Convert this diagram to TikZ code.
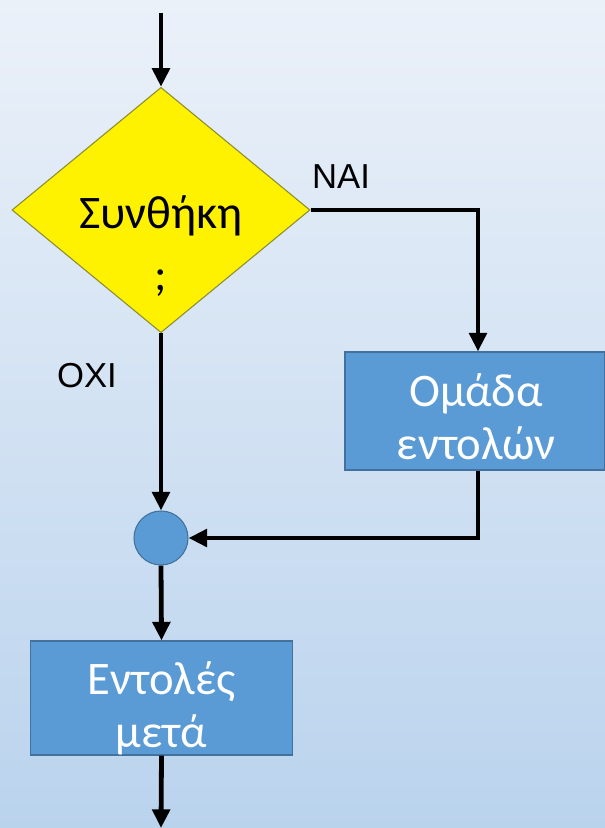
\documentclass[tikz,border=0pt]{standalone}
\usepackage{fontspec}
\setmainfont{Carlito}
\newfontfamily\labelfont{Liberation Sans}
\usetikzlibrary{arrows.meta,shapes.geometric}

\definecolor{bgtop}{HTML}{EBF1F9}
\definecolor{bgbot}{HTML}{BAD3ED}
\definecolor{boxblue}{HTML}{5B9BD5}
\definecolor{boxedge}{HTML}{41719C}
\definecolor{condedge}{HTML}{8C8C30}

\tikzset{
  flow/.style={line width=3.6pt, -{Triangle[length=14pt,width=13pt]}},
  cmdbox/.style={rectangle, draw=boxedge, fill=boxblue, line width=0.8pt},
  cmdtext/.style={text=white, align=center, font=\fontsize{35}{40}\selectfont},
  condbox/.style={diamond, draw=condedge, fill=yellow, line width=0.8pt,
    minimum width=223.5pt, minimum height=184pt, inner sep=0pt},
  joinpt/.style={circle, draw=boxedge, fill=boxblue, line width=0.8pt,
    minimum size=40.5pt, inner sep=0pt},
  branch/.style={font=\labelfont\fontsize{26}{30}\selectfont, text=black}
}

\begin{document}
\begin{tikzpicture}[x=0.75pt, y=-0.75pt]
        % background, one pixel per unit
        \shade[top color=bgtop, bottom color=bgbot] (0,0) rectangle (605,828);
        \useasboundingbox (0,0) rectangle (605,828);

        \coordinate (start) at (161,13);
        \node[condbox] (cond) at (161,210) {};
        \node[align=center, font=\fontsize{35}{46}\selectfont] (condtxt) at (161,246) {Συνθήκη\\;};
        \node[cmdbox, minimum width=195pt, minimum height=88.5pt] (grp) at (475,411) {};
        \node[cmdtext] (grptxt) at (476,417) {Ομάδα\\εντολών};
        \node[joinpt] (join) at (161,538) {};
        \node[cmdbox, minimum width=197pt, minimum height=85.5pt] (after) at (161.5,698) {};
        \node[cmdtext] (aftertxt) at (161.5,708) {Εντολές\\μετά};
        \coordinate (end) at (161,828);

        \node[branch] (yes) at (341,177) {NAI};
        \node[branch] (no) at (87,376) {OXI};

        \draw[flow] (start) -- (cond.north);
        \draw[flow] (cond.east) -| (478,0 |- grp.north);
        \draw[flow] (cond.south) -- (join.north);
        \draw[flow] (478,0 |- grp.south) |- (join.east);
        \draw[flow] (join.south) -- (after.north);
        \draw[flow] (after.south) -- (end);
\end{tikzpicture}
\end{document}
